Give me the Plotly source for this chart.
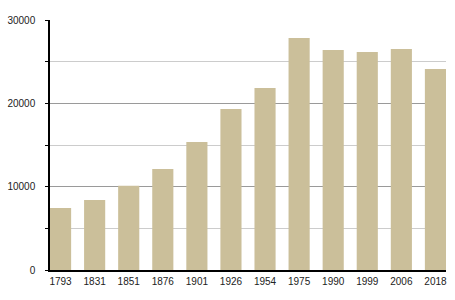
import plotly.graph_objects as go

years = ["1793", "1831", "1851", "1876", "1901", "1926", "1954", "1975", "1990", "1999", "2006", "2018"]
population = [7450, 8400, 10100, 12120, 15360, 19330, 21850, 27850, 26400, 26170, 26530, 24130]

bar_w = 0.62
fig = go.Figure(go.Bar(x=years, y=population, width=bar_w,
                       marker=dict(color="#cbbf9a", line=dict(width=0))))

fig.update_layout(
    width=455, height=300,
    margin=dict(l=50, r=9, t=20, b=30),
    paper_bgcolor="white", plot_bgcolor="white",
    showlegend=False,
    font=dict(family="Liberation Sans, Arial, sans-serif", size=10, color="#222"),
)
fig.update_xaxes(
    type="category", automargin=False,
    range=[-bar_w / 2, len(years) - 1 + bar_w / 2],
    showline=True, linecolor="black", linewidth=1.5,
    ticks="", showgrid=False, ticklabelstandoff=1,
)
fig.update_yaxes(
    range=[0, 30000], dtick=10000, tick0=0, tickformat="d", automargin=False,
    showline=True, linecolor="black", linewidth=1.5,
    ticks="outside", ticklen=3, tickcolor="black", tickwidth=1,
    showgrid=True, gridcolor="#9a9a9a", gridwidth=1,
    minor=dict(dtick=5000, tick0=0, ticks="outside", ticklen=3, tickcolor="black",
               showgrid=True, gridcolor="#cccccc", gridwidth=1),
    zeroline=False, ticklabelstandoff=8,
)

fig.write_html("out.html")
